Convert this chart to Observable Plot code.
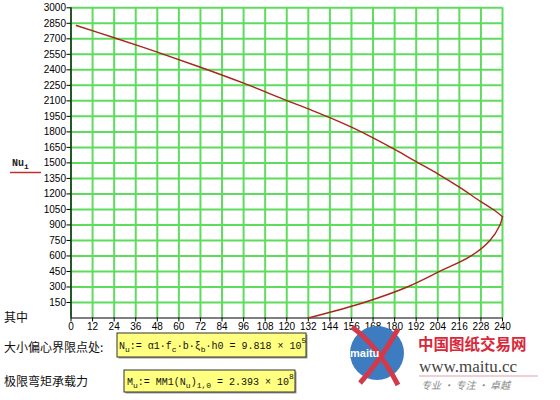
<!DOCTYPE html>
<html>
<head>
<meta charset="utf-8">
<script src="https://cdn.jsdelivr.net/npm/d3@7"></script>
<script src="https://cdn.jsdelivr.net/npm/@observablehq/plot@0.6"></script>
<style>
  html, body { margin: 0; padding: 0; background: #fff; }
  #wrap { position: relative; width: 560px; height: 400px; overflow: hidden; }
  #wrap > svg { position: absolute; left: 0; top: 0; }
</style>
</head>
<body>
<div id="wrap"></div>
<script>
// Interaction curve: moment (x) vs axial force (y), upper (compression) and lower (tension) branches
const upperM = [3, 24, 48, 72, 96, 120, 132, 144, 156, 168, 180, 192, 204, 216, 228, 236, 240];
const upperN = [2829, 2710, 2571, 2425, 2271, 2103, 2022, 1938, 1845, 1742, 1630, 1512, 1394, 1265, 1125, 1035, 980];
const lowerM = [240, 238.6, 233, 222.5, 205, 187, 163, 132];
const lowerN = [980, 900, 750, 600, 450, 300, 150, 0];
const xTicks = d3.range(0, 241, 12);
const yTicks = d3.range(150, 3001, 150);

const data = [
  ...upperM.map((m, i) => ({m, n: upperN[i], branch: "upper"})),
  ...lowerM.map((m, i) => ({m, n: lowerN[i], branch: "lower"}))
];
const green = "#5edc5e";
const font = "'Liberation Sans', Arial, sans-serif";

const chart = Plot.plot({
  width: 560,
  height: 400,
  marginLeft: 70.5,
  marginRight: 58,
  marginTop: 7.3,
  marginBottom: 82.5,
  style: {fontFamily: font, fontSize: "10px", background: "transparent", color: "#000"},
  x: {domain: [0, 240], label: null},
  y: {domain: [0, 3000], label: null},
  marks: [
    Plot.gridX(xTicks, {stroke: green, strokeOpacity: 1, strokeWidth: 2}),
    Plot.gridY(yTicks, {stroke: green, strokeOpacity: 1, strokeWidth: 2}),
    Plot.ruleX([0], {stroke: "#000", strokeWidth: 1.2}),
    Plot.ruleY([0], {stroke: "#000", strokeWidth: 1.2}),
    Plot.axisX({ticks: xTicks, tickSize: 4, tickPadding: 1, label: null, fontSize: 10, tickFormat: d3.format("d")}),
    Plot.axisY({ticks: yTicks, tickSize: 4, tickPadding: 1, label: null, fontSize: 10, tickFormat: d3.format("d")}),
    Plot.line(data, {x: "m", y: "n", z: "branch", stroke: "#a8261c", strokeWidth: 1.4, curve: "catmull-rom"})
  ]
});
document.getElementById("wrap").appendChild(chart);

// Annotation overlay
const svg = d3.select("#wrap").append("svg")
  .attr("width", 560).attr("height", 400)
  .style("pointer-events", "none");

// legend label Nu_i
const leg = svg.append("text").attr("x", 12).attr("y", 166)
  .attr("font-family", "'Liberation Mono', monospace").attr("font-size", 10).attr("font-weight", "bold").attr("fill", "#222");
leg.append("tspan").text("Nu");
leg.append("tspan").attr("dy", 3).attr("font-size", 8).text("i");
svg.append("line").attr("x1", 10).attr("x2", 41).attr("y1", 172.5).attr("y2", 172.5)
  .attr("stroke", "#c0302a").attr("stroke-width", 1.5);

const cjk = "'Noto Sans CJK SC', sans-serif";
svg.append("text").attr("x", 4).attr("y", 322).attr("font-family", cjk).attr("font-size", 12).attr("fill", "#111").text("其中");
svg.append("text").attr("x", 4).attr("y", 352).attr("font-family", cjk).attr("font-size", 12).attr("fill", "#111").text("大小偏心界限点处:");
svg.append("text").attr("x", 4).attr("y", 386).attr("font-family", cjk).attr("font-size", 12).attr("fill", "#111").text("极限弯矩承载力");

// formula boxes
function box(x, y, w, h) {
  svg.append("rect").attr("x", x + 1.5).attr("y", y + 1.5).attr("width", w).attr("height", h).attr("fill", "#999");
  svg.append("rect").attr("x", x).attr("y", y).attr("width", w).attr("height", h)
    .attr("fill", "#ffff80").attr("stroke", "#333").attr("stroke-width", 1);
}
box(117, 333, 189, 24);
box(124, 370, 171, 22);

const mono = "'Liberation Mono', 'DejaVu Sans Mono', monospace";
function formula(x, y, parts) {
  const t = svg.append("text").attr("x", x).attr("y", y).attr("font-family", mono).attr("font-size", 10).attr("fill", "#111");
  for (const [s, k] of parts) {
    const ts = t.append("tspan").text(s);
    if (k === "sub") ts.attr("font-size", 8).attr("dy", 3);
    if (k === "sup") ts.attr("font-size", 8).attr("dy", -6);
    if (k === "back") ts.attr("dy", -3);
  }
}
formula(119, 349, [["N", ""], ["u", "sub"], [":= α1·f", "back"], ["c", "sub"], ["·b·ξ", "back"], ["b", "sub"], ["·h0 = 9.818 × 10", "back"], ["5", "sup"]]);
formula(127, 385, [["M", ""], ["u", "sub"], [":= MM1(N", "back"], ["u", "sub"], [")", "back"], ["1,0", "sub"], [" = 2.393 × 10", "back"], ["8", "sup"]]);

// watermark logo
svg.append("circle").attr("cx", 377).attr("cy", 353).attr("r", 27).attr("fill", "#3d7cc0");
svg.append("path").attr("d", "M352,327 Q378,346 398,385").attr("fill", "none").attr("stroke", "#d23a4c").attr("stroke-width", 5);
svg.append("path").attr("d", "M398,329 Q380,361 360,383").attr("fill", "none").attr("stroke", "#d23a4c").attr("stroke-width", 5);
svg.append("text").attr("x", 350).attr("y", 357).attr("font-family", "'Liberation Sans', sans-serif").attr("font-size", 11)
  .attr("font-weight", "bold").attr("fill", "#fff").text("maitu");
svg.append("text").attr("x", 418).attr("y", 350).attr("font-family", cjk).attr("font-size", 15.5).attr("font-weight", "bold")
  .attr("fill", "#d8283a").text("中国图纸交易网");
svg.append("text").attr("x", 419).attr("y", 372).attr("font-family", "'Liberation Serif', serif").attr("font-size", 17)
  .attr("fill", "#444").text("www.maitu.cc");
svg.append("line").attr("x1", 419).attr("x2", 538).attr("y1", 376).attr("y2", 376).attr("stroke", "#e0a0a8").attr("stroke-width", 1);
svg.append("text").attr("x", 421).attr("y", 389).attr("font-family", cjk).attr("font-size", 10).attr("font-style", "italic")
  .attr("fill", "#888").text("专业 · 专注 · 卓越");
</script>
</body>
</html>
